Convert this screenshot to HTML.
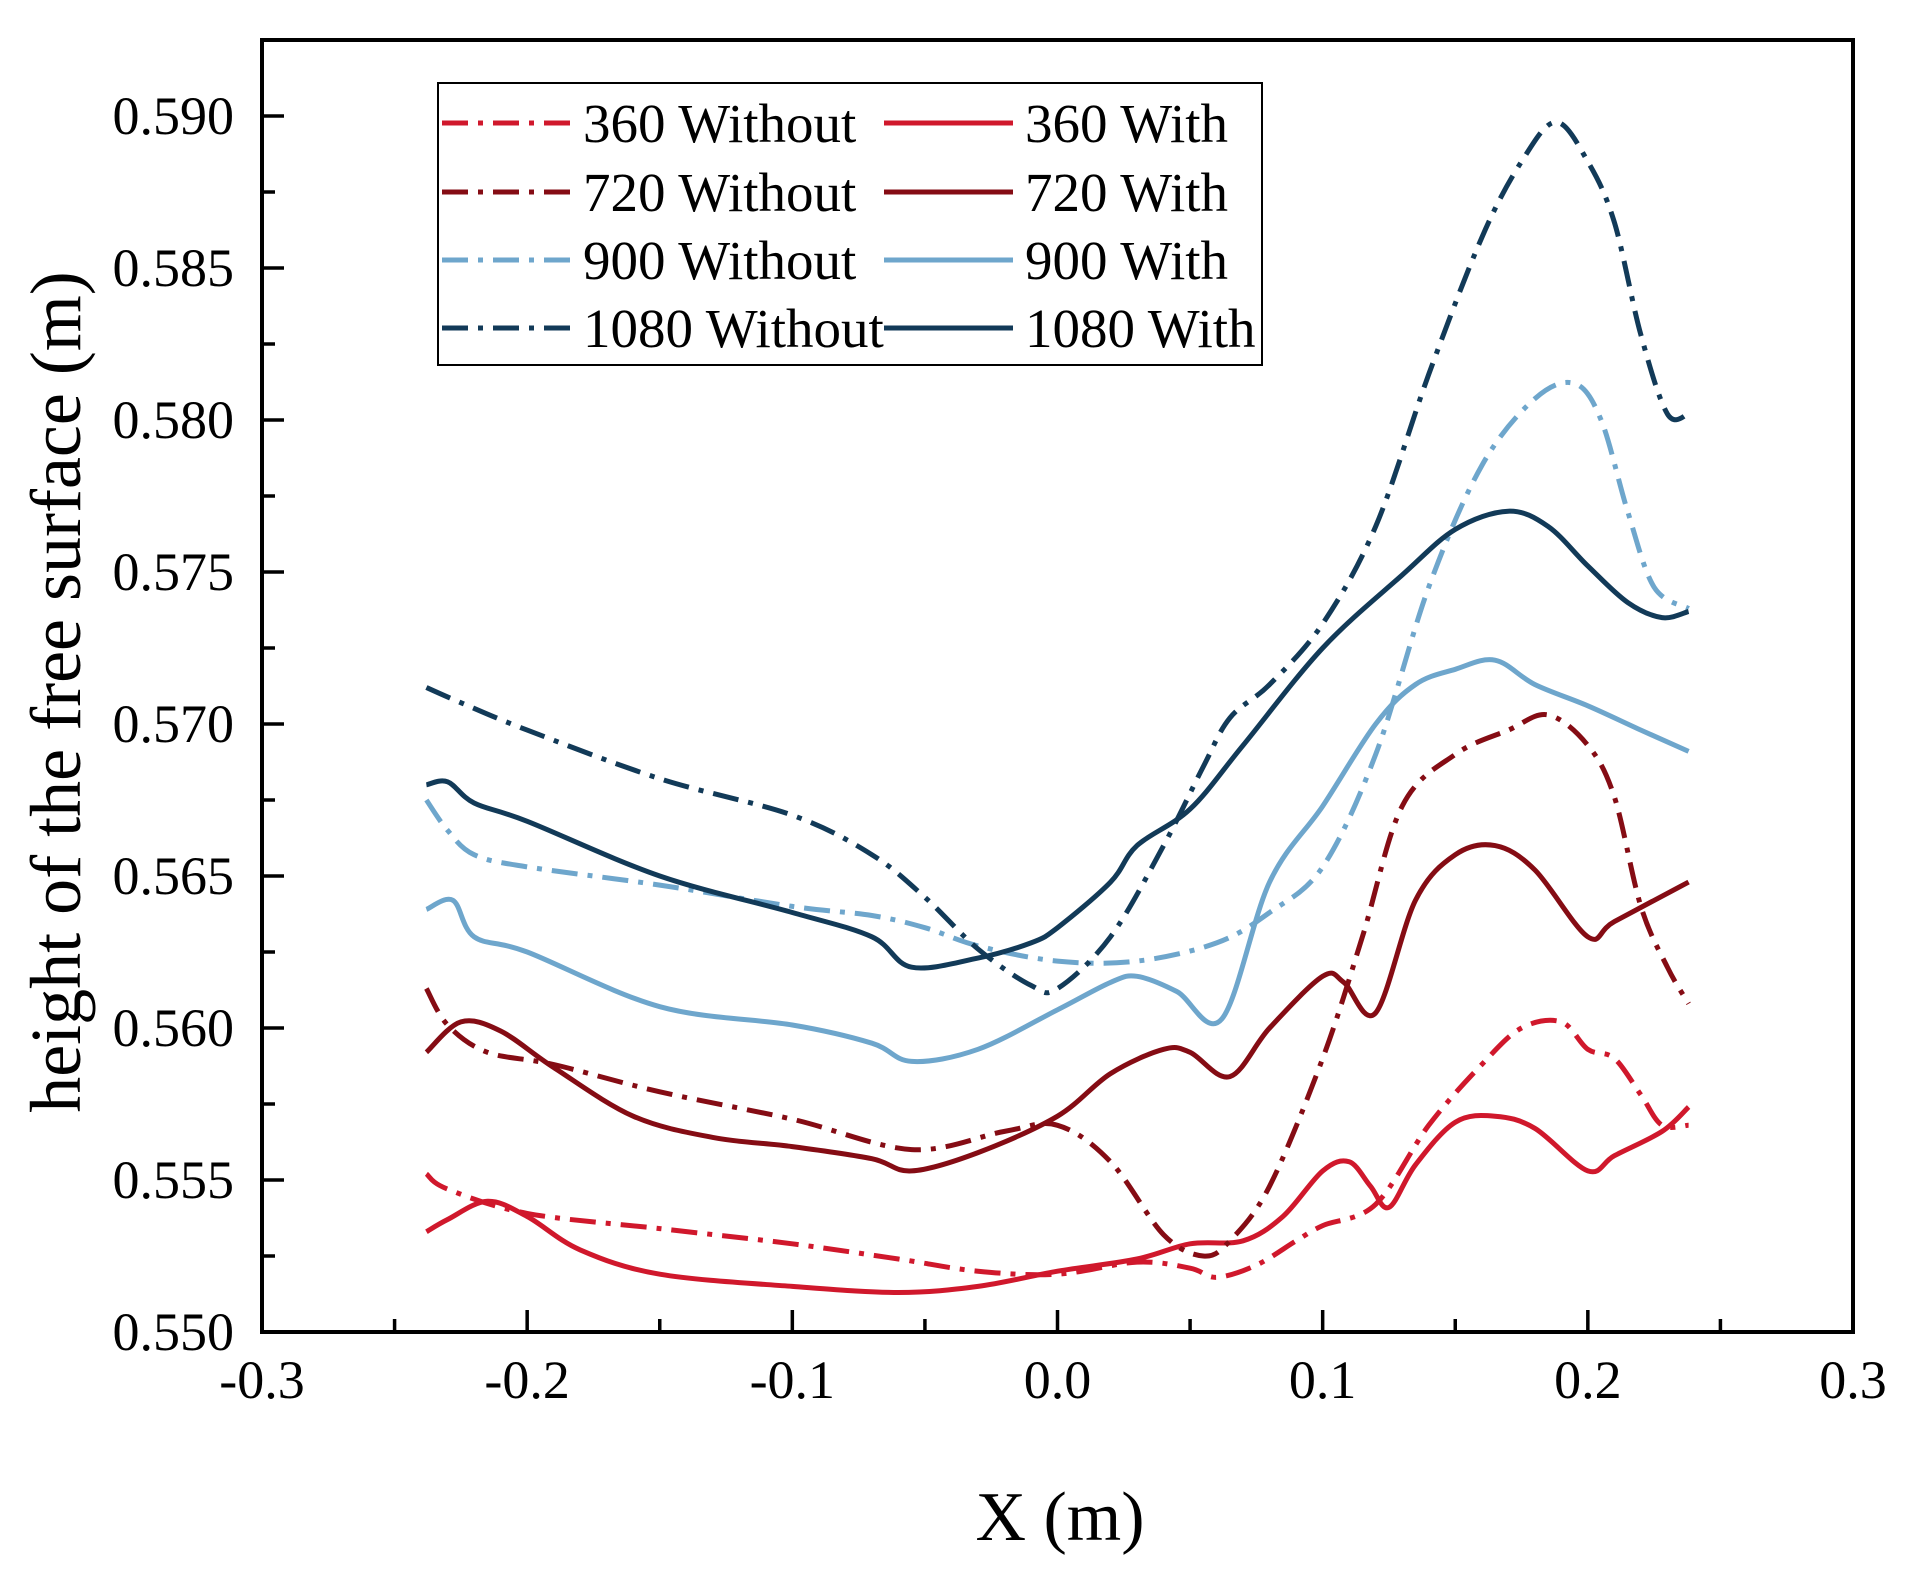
<!DOCTYPE html>
<html><head><meta charset="utf-8"><style>
html,body{margin:0;padding:0;background:#fff;}
svg{display:block;}
text{font-family:"Liberation Serif",serif;fill:#000;}
</style></head><body>
<svg id="chart" width="1915" height="1577" viewBox="0 0 1915 1577">
<g id="plot"></g>
</svg>
<script>
const xTicks=[-0.3,-0.2,-0.1,0.0,0.1,0.2,0.3];
const xTickLabels=["-0.3","-0.2","-0.1","0.0","0.1","0.2","0.3"];
const yTicks=[0.550,0.555,0.560,0.565,0.570,0.575,0.580,0.585,0.590];
const yTickLabels=["0.550","0.555","0.560","0.565","0.570","0.575","0.580","0.585","0.590"];
const seriesNames=["360 Without","360 With","720 Without","720 With","900 Without","900 With","1080 Without","1080 With"];
const x360Without=[-0.238,-0.23,-0.2,-0.15,-0.1,-0.06,-0.03,0.0,0.03,0.05,0.06,0.075,0.09,0.1,0.12,0.14,0.16,0.175,0.19,0.2,0.21,0.22,0.228,0.238];
const y360Without=[0.5552,0.5547,0.5539,0.5534,0.5529,0.5524,0.5520,0.5519,0.5523,0.5521,0.5518,0.5522,0.5530,0.5535,0.5542,0.5568,0.5588,0.5600,0.5602,0.5593,0.5590,0.5578,0.5568,0.5568];
const x360With=[-0.238,-0.23,-0.215,-0.2,-0.18,-0.15,-0.1,-0.06,-0.03,0.0,0.03,0.05,0.07,0.085,0.1,0.11,0.118,0.125,0.135,0.15,0.165,0.18,0.2,0.21,0.228,0.238];
const y360With=[0.5533,0.5537,0.5543,0.5538,0.5527,0.5519,0.5515,0.5513,0.5515,0.5520,0.5524,0.5529,0.5530,0.5538,0.5553,0.5556,0.5548,0.5541,0.5555,0.5569,0.5571,0.5567,0.5553,0.5558,0.5566,0.5574];
const x720Without=[-0.238,-0.23,-0.215,-0.19,-0.15,-0.1,-0.055,-0.02,0.0,0.02,0.04,0.055,0.065,0.08,0.1,0.115,0.13,0.15,0.17,0.185,0.2,0.21,0.22,0.23,0.238];
const y720Without=[0.5613,0.5601,0.5592,0.5588,0.5579,0.5570,0.5560,0.5566,0.5568,0.5556,0.5532,0.5525,0.5530,0.5548,0.5590,0.5630,0.5673,0.5690,0.5698,0.5703,0.5693,0.5676,0.5640,0.5620,0.5608];
const x720With=[-0.238,-0.225,-0.21,-0.19,-0.16,-0.13,-0.1,-0.07,-0.055,-0.03,0.0,0.02,0.04,0.05,0.065,0.08,0.1,0.108,0.12,0.135,0.15,0.165,0.18,0.2,0.21,0.238];
const y720With=[0.5592,0.5602,0.5599,0.5587,0.5571,0.5564,0.5561,0.5557,0.5553,0.5559,0.5571,0.5585,0.5593,0.5592,0.5584,0.5600,0.5617,0.5615,0.5605,0.5642,0.5657,0.5660,0.5652,0.5630,0.5635,0.5648];
const x900Without=[-0.238,-0.23,-0.22,-0.2,-0.15,-0.1,-0.07,-0.05,-0.03,0.0,0.03,0.06,0.08,0.1,0.12,0.14,0.16,0.18,0.195,0.205,0.215,0.225,0.238];
const y900Without=[0.5675,0.5665,0.5657,0.5653,0.5647,0.5640,0.5637,0.5633,0.5627,0.5622,0.5622,0.5628,0.5638,0.5653,0.5690,0.5745,0.5785,0.5807,0.5812,0.5800,0.5770,0.5745,0.5738];
const x900With=[-0.238,-0.228,-0.22,-0.2,-0.15,-0.1,-0.07,-0.055,-0.03,0.0,0.02,0.03,0.045,0.062,0.08,0.1,0.12,0.135,0.15,0.165,0.18,0.2,0.22,0.238];
const y900With=[0.5639,0.5642,0.5630,0.5625,0.5607,0.5601,0.5595,0.5589,0.5593,0.5606,0.5615,0.5617,0.5612,0.5603,0.5648,0.5673,0.5700,0.5713,0.5718,0.5721,0.5713,0.5706,0.5698,0.5691];
const x1080Without=[-0.238,-0.225,-0.2,-0.15,-0.1,-0.07,-0.05,-0.03,-0.01,0.0,0.02,0.04,0.055,0.065,0.08,0.1,0.12,0.14,0.16,0.175,0.188,0.2,0.21,0.22,0.23,0.238];
const y1080Without=[0.5712,0.5707,0.5698,0.5682,0.5670,0.5657,0.5643,0.5626,0.5614,0.5613,0.5630,0.5660,0.5686,0.5702,0.5713,0.5733,0.5765,0.5815,0.5860,0.5885,0.5898,0.5885,0.5865,0.5828,0.5802,0.5802];
const x1080With=[-0.238,-0.23,-0.22,-0.2,-0.15,-0.1,-0.07,-0.055,-0.03,-0.01,0.0,0.02,0.03,0.05,0.07,0.1,0.13,0.15,0.17,0.185,0.2,0.215,0.228,0.238];
const y1080With=[0.5680,0.5681,0.5674,0.5668,0.5650,0.5638,0.5630,0.5620,0.5623,0.5628,0.5633,0.5648,0.5660,0.5672,0.5693,0.5725,0.5749,0.5764,0.5770,0.5765,0.5752,0.5740,0.5735,0.5737];

const L=262,R=1853,T=40,B=1332;
const X0=-0.3,X1=0.3,Y0=0.550;
function sx(v){return L+(v-X0)/(X1-X0)*(R-L);}
function sy(v){return B-(v-Y0)/(0.040)*(B-116);}
const NS="http://www.w3.org/2000/svg";
const svg=document.getElementById('chart');
const plot=document.getElementById('plot');
function mk(tag,attrs,parent){const e=document.createElementNS(NS,tag);for(const k in attrs)e.setAttribute(k,attrs[k]);(parent||svg).appendChild(e);return e;}

const DASH="26 10 5 10";
const series=[
 {xs:x360Without,ys:y360Without,c:"#d0182c",d:DASH,n:"series-360-without"},
 {xs:x360With,ys:y360With,c:"#d0182c",d:"",n:"series-360-with"},
 {xs:x720Without,ys:y720Without,c:"#850c14",d:DASH,n:"series-720-without"},
 {xs:x720With,ys:y720With,c:"#850c14",d:"",n:"series-720-with"},
 {xs:x900Without,ys:y900Without,c:"#6ea6cc",d:DASH,n:"series-900-without"},
 {xs:x900With,ys:y900With,c:"#6ea6cc",d:"",n:"series-900-with"},
 {xs:x1080Without,ys:y1080Without,c:"#123a58",d:DASH,n:"series-1080-without"},
 {xs:x1080With,ys:y1080With,c:"#123a58",d:"",n:"series-1080-with"}
];
function smoothPath(xs,ys){
 const p=xs.map((x,i)=>[sx(x),sy(ys[i])]);
 let d="M"+p[0][0].toFixed(1)+","+p[0][1].toFixed(1);
 for(let i=0;i<p.length-1;i++){
  const p0=p[Math.max(0,i-1)],p1=p[i],p2=p[i+1],p3=p[Math.min(p.length-1,i+2)];
  const c1=[p1[0]+(p2[0]-p0[0])/6,p1[1]+(p2[1]-p0[1])/6];
  const c2=[p2[0]-(p3[0]-p1[0])/6,p2[1]-(p3[1]-p1[1])/6];
  d+=" C"+c1[0].toFixed(1)+","+c1[1].toFixed(1)+" "+c2[0].toFixed(1)+","+c2[1].toFixed(1)+" "+p2[0].toFixed(1)+","+p2[1].toFixed(1);
 }
 return d;
}
series.forEach(s=>{
 const a={d:smoothPath(s.xs,s.ys),fill:"none",stroke:s.c,"stroke-width":5,"stroke-linejoin":"round"};
 if(s.d)a["stroke-dasharray"]=s.d;
 const p=mk('path',a,plot);
 
 
});

const frame=mk('rect',{x:L,y:T,width:R-L,height:B-T,fill:"none",stroke:"#000","stroke-width":4});



for(let v=-0.25;v<=0.2501;v+=0.05){
 const major=Math.abs(Math.round(v*10)-v*10)<1e-6;
 const t=mk('line',{x1:sx(v),x2:sx(v),y1:B,y2:B-(major?22:13),stroke:"#000","stroke-width":3.5});
 
 
}
xTicks.forEach((v,i)=>{
 const t=mk('text',{x:sx(v),y:B+66,"text-anchor":"middle","font-size":54});
 t.textContent=xTickLabels[i];
 
 
});
for(let i=0;i<=16;i++){
 const v=0.550+i*0.0025;
 const major=i%2===0;
 const t=mk('line',{x1:L,x2:L+(major?22:13),y1:sy(v),y2:sy(v),stroke:"#000","stroke-width":3.5});
 
 
}
yTicks.forEach((v,i)=>{
 const t=mk('text',{x:L-28,y:sy(v)+18,"text-anchor":"end","font-size":54});
 t.textContent=yTickLabels[i];
 
 
});
const xt=mk('text',{x:1060,y:1540,"text-anchor":"middle","font-size":70});
xt.textContent="X (m)";


const yt=mk('text',{x:0,y:0,"text-anchor":"middle","font-size":72,transform:"translate(80,692) rotate(-90)"});
yt.textContent="height of the free surface (m)";



const lg=mk('g',{});


const lb=mk('rect',{x:438,y:83,width:824,height:282,fill:"#fff",stroke:"#000","stroke-width":2},lg);


const rowsY=[123,192,260,328];
series.forEach((s,i)=>{
 const row=Math.floor(i/2),col=i%2;
 const x0=col?884:442,x1=col?1013:571,tx=col?1025:583,y=rowsY[row];
 const g=mk('g',{},lg);
 
 
 const a={x1:x0,x2:x1,y1:y,y2:y,stroke:s.c,"stroke-width":5};
 if(s.d)a["stroke-dasharray"]=s.d;
 mk('line',a,g);
 const t=mk('text',{x:tx,y:y+19,"font-size":55},g);
 t.textContent=seriesNames[i];
});
</script>
</body></html>
